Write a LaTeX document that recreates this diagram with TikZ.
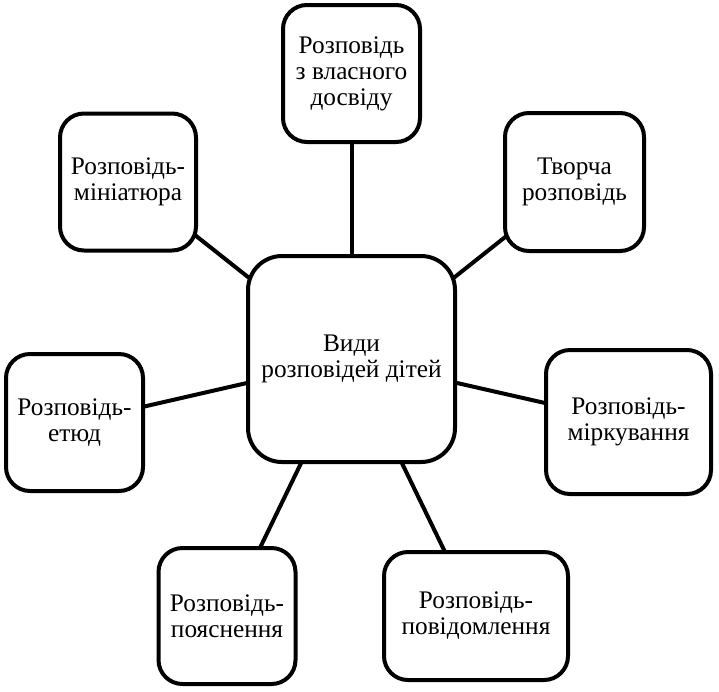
\documentclass[tikz,border=0pt]{standalone}
\usepackage{fontspec}
\setmainfont{Liberation Serif}
\usetikzlibrary{backgrounds}
\begin{document}
\begin{tikzpicture}[x=1pt,y=1pt,
  box/.style={draw=black, line width=4pt, fill=white, rounded corners=24pt,
    align=center, inner sep=0pt,
    font=\fontsize{25.3}{26}\selectfont},
  link/.style={draw=black, line width=4pt}]
\useasboundingbox (0,0) rectangle (719,-691);
\node[box, rounded corners=34pt, minimum width=207pt, minimum height=206pt] (c) at (351.5,-359) {Види\\розповідей дітей};
\node[box, minimum width=137pt, minimum height=137pt] (t) at (351.5,-73.5) {Розповідь\\з власного\\досвіду};
\node[box, minimum width=136pt, minimum height=137pt] (tl) at (128,-182) {Розповідь-\\мініатюра};
\node[box, minimum width=139pt, minimum height=138pt] (tr) at (574.5,-182) {Творча\\розповідь};
\node[box, minimum width=137pt, minimum height=137pt] (l) at (74.5,-422.5) {Розповідь-\\етюд};
\node[box, minimum width=165pt, minimum height=144pt] (r) at (628.5,-422) {Розповідь-\\міркування};
\node[box, minimum width=137pt, minimum height=136pt] (bl) at (227,-616) {Розповідь-\\пояснення};
\node[box, minimum width=184pt, minimum height=128pt] (br) at (476,-616) {Розповідь-\\повідомлення};
\begin{scope}[on background layer]
\draw[link] (c.center) -- (t.center);
\draw[link] (c.center) -- (tl.center);
\draw[link] (c.center) -- (tr.center);
\draw[link] (c.center) -- (l.center);
\draw[link] (c.center) -- (r.center);
\draw[link] (c.center) -- (bl.center);
\draw[link] (c.center) -- (br.center);
\end{scope}
\end{tikzpicture}
\end{document}
